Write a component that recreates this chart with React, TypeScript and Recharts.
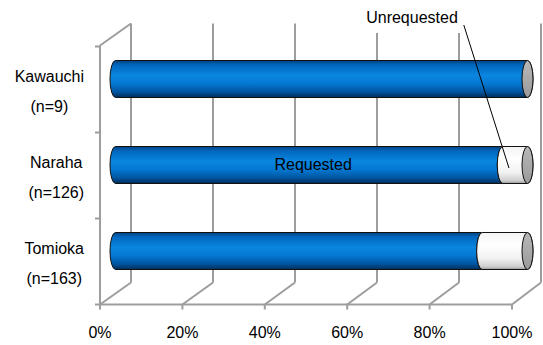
import { BarChart, Bar, XAxis, YAxis, CartesianGrid } from 'recharts';

// share of households by town, split by whether a visit was requested
const categories = ['Kawauchi', 'Naraha', 'Tomioka'];
const sampleSizes = [9, 126, 163];
const requestedPct = [100, 94, 89];
const unrequestedPct = [0, 6, 11];
const xTicks = [0, 20, 40, 60, 80, 100];

const seriesNames = { requested: 'Requested', unrequested: 'Unrequested' };
const calloutCategory = 'Naraha';

const data = categories.map((name, i) => ({
  name,
  n: sampleSizes[i],
  requested: requestedPct[i],
  unrequested: unrequestedPct[i],
}));

const W = 543;
const H = 345;
const PLOT = { left: 115.5, top: 35.5, width: 412, height: 258 };
const Y_AXIS_W = 100;
const X_AXIS_H = 40;
const MARGIN = {
  top: PLOT.top,
  left: PLOT.left - Y_AXIS_W,
  right: W - PLOT.left - PLOT.width,
  bottom: H - PLOT.top - PLOT.height - X_AXIS_H,
};
// half the depth of the 3-D box: bars sit in the middle plane
const DX = 15.5;
const DY = 11;
// back wall is drawn a touch narrower than the bar plane
const BACK_SCALE = 410 / 412;
const CAP_RX = 5.5;
const FONT = '"Liberation Sans", Arial, sans-serif';
const GRID = '#9d9d9d';

const FRONT_Y = PLOT.top + PLOT.height + DY;
const BAND = PLOT.height / categories.length;

const backX = (x: number) => PLOT.left + DX + (x - PLOT.left) * BACK_SCALE;

let measureCtx: CanvasRenderingContext2D | null = null;
function measure(s: string) {
  if (!measureCtx) measureCtx = document.createElement('canvas').getContext('2d');
  if (!measureCtx) return s.length * 8;
  measureCtx.font = `16px ${FONT}`;
  return measureCtx.measureText(s).width;
}

function Gradients() {
  return (
    <defs>
      <linearGradient id="body-blue" x1="0" y1="0" x2="0" y2="1">
        <stop offset="0%" stopColor="#00427f" />
        <stop offset="12%" stopColor="#0066bd" />
        <stop offset="40%" stopColor="#0a86e0" />
        <stop offset="62%" stopColor="#0578d2" />
        <stop offset="85%" stopColor="#0055a0" />
        <stop offset="100%" stopColor="#002c58" />
      </linearGradient>
      <linearGradient id="body-white" x1="0" y1="0" x2="0" y2="1">
        <stop offset="0%" stopColor="#f4f4f4" />
        <stop offset="35%" stopColor="#ffffff" />
        <stop offset="70%" stopColor="#f2f2f2" />
        <stop offset="92%" stopColor="#cfcfcf" />
        <stop offset="100%" stopColor="#9a9a9a" />
      </linearGradient>
      <linearGradient id="cap-grey" x1="0" y1="0" x2="0" y2="1">
        <stop offset="0%" stopColor="#b8b8b8" />
        <stop offset="100%" stopColor="#9a9a9a" />
      </linearGradient>
    </defs>
  );
}

function Cylinder({ x, y, width, height, tone }: any) {
  const rx = CAP_RX;
  const ry = height / 2;
  const x2 = x + width;
  const body = `M${x},${y} L${x2},${y} A${rx},${ry} 0 0 1 ${x2},${y + height} L${x},${y + height} A${rx},${ry} 0 0 1 ${x},${y} Z`;
  return (
    <g>
      <path d={body} fill={`url(#body-${tone})`} stroke="#111" strokeWidth={1} />
      <ellipse cx={x2} cy={y + ry} rx={rx} ry={ry} fill="url(#cap-grey)" stroke="#111" strokeWidth={1} />
    </g>
  );
}

function RequestedShape(props: any) {
  const { x, y, width, height, payload } = props;
  if (!width || width <= 0) return null;
  return (
    <g>
      <Gradients />
      <Cylinder x={x} y={y} width={width} height={height} tone="blue" />
      {payload?.name === calloutCategory && (
        <text x={x + width / 2 + 4} y={y + height / 2 + 5} textAnchor="middle" fontSize={16} fontFamily={FONT} fill="#000">
          {seriesNames.requested}
        </text>
      )}
    </g>
  );
}

function UnrequestedShape(props: any) {
  const { x, y, width, height, payload } = props;
  if (!width || width <= 0) return null;
  const showCallout = payload?.name === calloutCategory;
  const labelX = 412;
  const labelY = 23;
  const labelW = measure(seriesNames.unrequested);
  return (
    <g>
      <Cylinder x={x} y={y} width={width} height={height} tone="white" />
      {showCallout && (
        <g>
          <rect x={labelX - labelW / 2 - 6} y={2} width={labelW + 12} height={31} fill="#fff" />
          <text x={labelX} y={labelY} textAnchor="middle" fontSize={16} fontFamily={FONT} fill="#000">
            {seriesNames.unrequested}
          </text>
          <line x1={labelX + labelW / 2 + 6} y1={25} x2={x + width * 0.25} y2={y + height / 2 + 3} stroke="#000" strokeWidth={1} />
        </g>
      )}
    </g>
  );
}

// back wall gridlines, floor lines and the left side wall of the 3-D box
function GridLine(props: any) {
  const { x1, y1, y2, index } = props;
  const bx = backX(x1);
  const fx = x1 - DX;
  const first = index === 0 || Math.abs(x1 - PLOT.left) < 1;
  return (
    <g key={`grid-${x1}`}>
      <line x1={bx} y1={y1 - DY - 1} x2={bx} y2={y2 - DY} stroke={GRID} strokeWidth={2} />
      <line x1={bx} y1={y2 - DY} x2={fx} y2={y2 + DY} stroke={GRID} strokeWidth={2} />
      {first && (
        <g>
          <line x1={fx} y1={y1 + DY - 1} x2={bx} y2={y1 - DY - 1} stroke={GRID} strokeWidth={2} />
          <line x1={fx} y1={y1 + DY - 1} x2={fx} y2={y2 + DY} stroke={GRID} strokeWidth={2} />
          <line x1={fx} y1={y2 + DY} x2={fx + PLOT.width} y2={y2 + DY} stroke={GRID} strokeWidth={2} />
          {categories.map((_, k) => (
            <line key={k} x1={fx - 5} y1={y1 + DY + k * BAND} x2={fx} y2={y1 + DY + k * BAND} stroke={GRID} strokeWidth={2} />
          ))}
          <line x1={fx - 5} y1={y2 + DY} x2={fx} y2={y2 + DY} stroke={GRID} strokeWidth={2} />
        </g>
      )}
    </g>
  );
}

function PercentTick({ x, payload }: any) {
  const fx = x - DX;
  return (
    <g>
      <line x1={fx} y1={FRONT_Y} x2={fx} y2={FRONT_Y + 5} stroke={GRID} strokeWidth={2} />
      <text x={fx} y={FRONT_Y + 33} textAnchor="middle" fontSize={16} fontFamily={FONT} fill="#000">
        {`${payload.value}%`}
      </text>
    </g>
  );
}

function CategoryTick({ y, payload }: any) {
  const row = data.find((d) => d.name === payload.value);
  if (!row) return null;
  const lines = [row.name, `(n=${row.n})`];
  const right = PLOT.left - DX - 16;
  const boxW = Math.max(...lines.map(measure));
  const cx = right - boxW / 2;
  return (
    <g>
      {lines.map((t, i) => (
        <text key={i} x={cx} y={y + 3.5 + i * 30} textAnchor="middle" fontSize={16} fontFamily={FONT} fill="#000">
          {t}
        </text>
      ))}
    </g>
  );
}

export default function App() {
  return (
    <div style={{ position: 'absolute', left: 0, top: 0, width: W, height: H, background: '#fff' }}>
      <BarChart width={W} height={H} data={data} layout="vertical" margin={MARGIN} barSize={37}>
        <CartesianGrid horizontal={false} vertical={GridLine} />
        <XAxis
          type="number"
          domain={[0, 100]}
          ticks={xTicks}
          height={X_AXIS_H}
          axisLine={false}
          tickLine={false}
          tick={<PercentTick />}
          interval={0}
        />
        <YAxis
          type="category"
          dataKey="name"
          width={Y_AXIS_W}
          axisLine={false}
          tickLine={false}
          tick={<CategoryTick />}
          interval={0}
        />
        <Bar dataKey="requested" stackId="a" shape={<RequestedShape />} isAnimationActive={false} />
        <Bar dataKey="unrequested" stackId="a" shape={<UnrequestedShape />} isAnimationActive={false} />
      </BarChart>
    </div>
  );
}
